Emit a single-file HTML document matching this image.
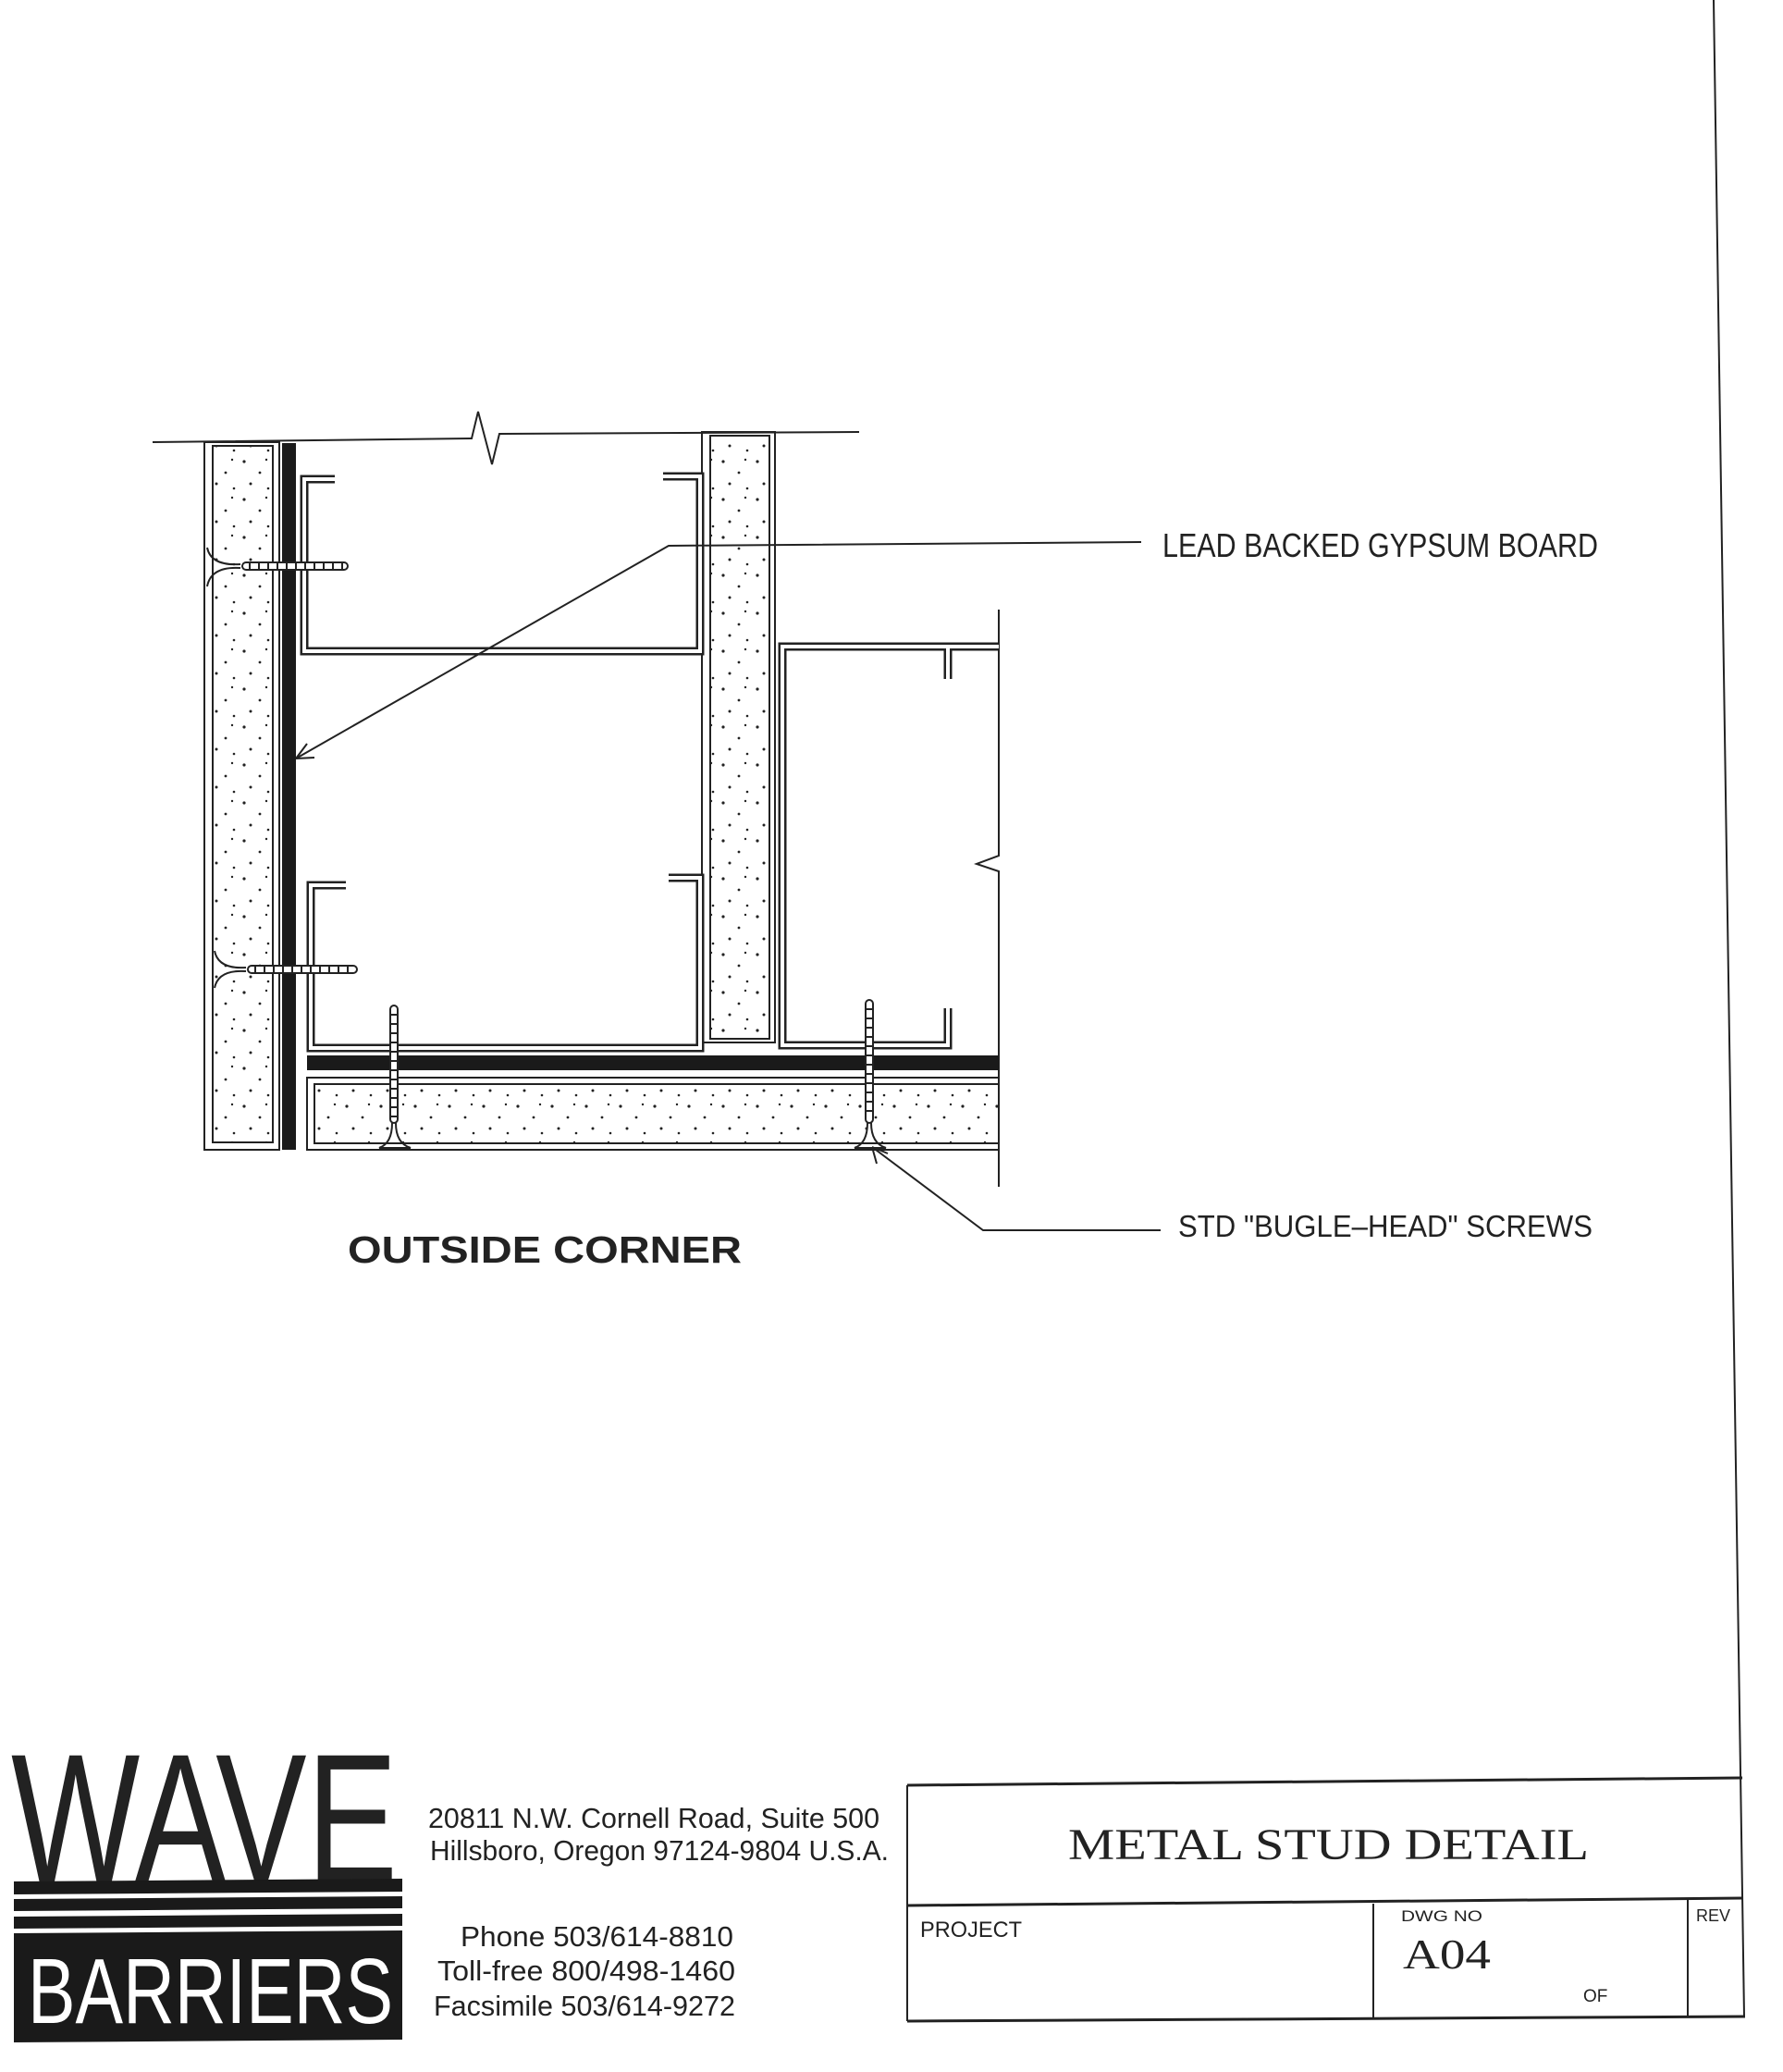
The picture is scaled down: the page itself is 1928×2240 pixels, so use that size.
<!DOCTYPE html>
<html><head><meta charset="utf-8"><style>html,body{margin:0;padding:0;background:#fff}svg{display:block}</style></head>
<body>
<svg width="1928" height="2240" viewBox="0 0 1928 2240" xmlns="http://www.w3.org/2000/svg">
<defs>
<pattern id="dots" width="37" height="41" patternUnits="userSpaceOnUse">
<circle cx="5" cy="7" r="1.6" fill="#222"/><circle cx="22" cy="19" r="1.4" fill="#222"/><circle cx="12" cy="31" r="1.5" fill="#222"/><circle cx="31" cy="36" r="1.3" fill="#222"/><circle cx="29" cy="5" r="1.2" fill="#222"/>
</pattern>
</defs>
<g fill="none" stroke="#222" stroke-width="2">
<line x1="1853" y1="0" x2="1886" y2="2180"/>
<polyline points="165,478 510,474 517,445 532,502 540,469 929,467"/>
<rect x="221" y="478" width="81" height="765"/>
<rect x="230" y="482" width="65" height="753"/>
<rect x="759" y="467" width="79" height="660"/>
<rect x="768" y="471" width="64" height="652"/>
<rect x="332" y="1165" width="748" height="78"/>
<rect x="340" y="1172" width="740" height="64"/>
<polyline points="1080,659 1080,925 1056,934 1080,942 1080,1283"/>
</g>
<g fill="url(#dots)">
<rect x="231" y="483" width="63" height="751"/>
<rect x="769" y="472" width="62" height="650"/>
<rect x="341" y="1173" width="738" height="62"/>
</g>
<rect x="305" y="479" width="15" height="764" fill="#1a1a1a"/>
<rect x="332" y="1141" width="748" height="16" fill="#1a1a1a"/>
<g fill="none" stroke-linejoin="miter">
<g stroke="#222" stroke-width="9">
<path d="M362,518 H329 V704 H757 V515 H717"/>
<path d="M374,957 H336 V1133 H757 V949 H723"/>
<path d="M1080,699 H846 V1130 H1025 V1090"/>
<path d="M1025,699 V734"/>
</g>
<g stroke="#fff" stroke-width="4">
<path d="M362,518 H329 V704 H757 V515 H717"/>
<path d="M374,957 H336 V1133 H757 V949 H723"/>
<path d="M1080,699 H846 V1130 H1025 V1090"/>
<path d="M1025,699 V734"/>
</g>
</g>
<g stroke="#222" fill="none" stroke-width="2">
<path d="M224,592 Q228,612 260,610 M224,634 Q228,612 260,614"/>
<rect x="262" y="608" width="114" height="8" rx="4" fill="#fff"/>
<path d="M270,608 v8 M280,608 v8 M290,608 v8 M300,608 v8 M310,608 v8 M320,608 v8 M330,608 v8 M340,608 v8 M350,608 v8 M360,608 v8 M370,608 v8"/>
<path d="M232,1028 Q236,1048 266,1046 M232,1068 Q236,1048 266,1050"/>
<rect x="268" y="1044" width="118" height="8" rx="4" fill="#fff"/>
<path d="M276,1044 v8 M286,1044 v8 M296,1044 v8 M306,1044 v8 M316,1044 v8 M326,1044 v8 M336,1044 v8 M346,1044 v8 M356,1044 v8 M366,1044 v8 M376,1044 v8"/>
<rect x="422" y="1087" width="8" height="127" rx="4" fill="#fff"/>
<path d="M422,1097 h8 M422,1107 h8 M422,1117 h8 M422,1127 h8 M422,1137 h8 M422,1147 h8 M422,1157 h8 M422,1167 h8 M422,1177 h8 M422,1187 h8 M422,1197 h8 M422,1207 h8"/>
<path d="M424,1214 Q424,1236 410,1241 H444 Q428,1236 428,1214"/>
<rect x="936" y="1081" width="8" height="133" rx="4" fill="#fff"/>
<path d="M936,1091 h8 M936,1101 h8 M936,1111 h8 M936,1121 h8 M936,1131 h8 M936,1141 h8 M936,1151 h8 M936,1161 h8 M936,1171 h8 M936,1181 h8 M936,1191 h8 M936,1201 h8"/>
<path d="M938,1214 Q938,1236 924,1241 H958 Q942,1236 942,1214"/>
<polyline points="1234,586 723,590 320,820"/>
<path d="M320,820 L332,804 M320,820 L340,819"/>
<polyline points="943,1240 1063,1330 1255,1330"/>
<path d="M943,1240 L948,1258 M943,1240 L960,1247"/>
</g>
<g font-family="'Liberation Sans', sans-serif" fill="#222">
<text x="1257" y="602" font-size="36" textLength="471" lengthAdjust="spacingAndGlyphs">LEAD  BACKED  GYPSUM  BOARD</text>
<text x="1274" y="1337" font-size="33" textLength="448" lengthAdjust="spacingAndGlyphs">STD "BUGLE–HEAD" SCREWS</text>
<text x="376" y="1365" font-size="41" font-weight="bold" textLength="426" lengthAdjust="spacingAndGlyphs">OUTSIDE  CORNER</text>
</g>
<g stroke="#222" stroke-width="3" fill="none">
<line x1="981" y1="1930" x2="1884" y2="1922"/>
<line x1="981" y1="2060" x2="1885" y2="2052"/>
<line x1="981" y1="2185" x2="1887" y2="2180"/>
<line x1="981" y1="1930" x2="981" y2="2185" stroke-width="2"/>
<line x1="1485" y1="2058" x2="1485" y2="2183" stroke-width="2"/>
<line x1="1825" y1="2054" x2="1825" y2="2181" stroke-width="2"/>
</g>
<g fill="#222">
<text x="1155" y="2010" font-family="'Liberation Serif', serif" font-size="48" textLength="563" lengthAdjust="spacingAndGlyphs">METAL  STUD  DETAIL</text>
<text x="995" y="2094" font-family="'Liberation Sans', sans-serif" font-size="24" textLength="110" lengthAdjust="spacingAndGlyphs">PROJECT</text>
<text x="1515" y="2077" font-family="'Liberation Sans', sans-serif" font-size="17" textLength="88" lengthAdjust="spacingAndGlyphs">DWG NO</text>
<text x="1517" y="2128" font-family="'Liberation Serif', serif" font-size="46" textLength="95" lengthAdjust="spacingAndGlyphs">A04</text>
<text x="1712" y="2164" font-family="'Liberation Sans', sans-serif" font-size="19">OF</text>
<text x="1834" y="2077" font-family="'Liberation Sans', sans-serif" font-size="18">REV</text>
</g>
<text x="12" y="2034" font-family="'Liberation Sans', sans-serif" font-size="198" fill="#222" textLength="418" lengthAdjust="spacingAndGlyphs">WAVE</text>
<g fill="#1a1a1a">
<polygon points="15,2034 435,2031 435,2045 15,2048"/>
<polygon points="15,2053 435,2050 435,2063 15,2066"/>
<polygon points="15,2072 435,2069 435,2082 15,2085"/>
<polygon points="15,2090 435,2087 435,2205 15,2208"/>
</g>
<text x="30" y="2187" font-family="'Liberation Sans', sans-serif" font-size="100" fill="#fff" textLength="395" lengthAdjust="spacingAndGlyphs">BARRIERS</text>
<g font-family="'Liberation Sans', sans-serif" fill="#222" font-size="31">
<text x="463" y="1976" textLength="488" lengthAdjust="spacingAndGlyphs">20811 N.W. Cornell Road, Suite 500</text>
<text x="465" y="2011" textLength="496" lengthAdjust="spacingAndGlyphs">Hillsboro, Oregon 97124-9804 U.S.A.</text>
<text x="498" y="2104" textLength="295" lengthAdjust="spacingAndGlyphs">Phone  503/614-8810</text>
<text x="473" y="2141" textLength="322" lengthAdjust="spacingAndGlyphs">Toll-free  800/498-1460</text>
<text x="469" y="2179" textLength="326" lengthAdjust="spacingAndGlyphs">Facsimile  503/614-9272</text>
</g>
</svg>
</body></html>
